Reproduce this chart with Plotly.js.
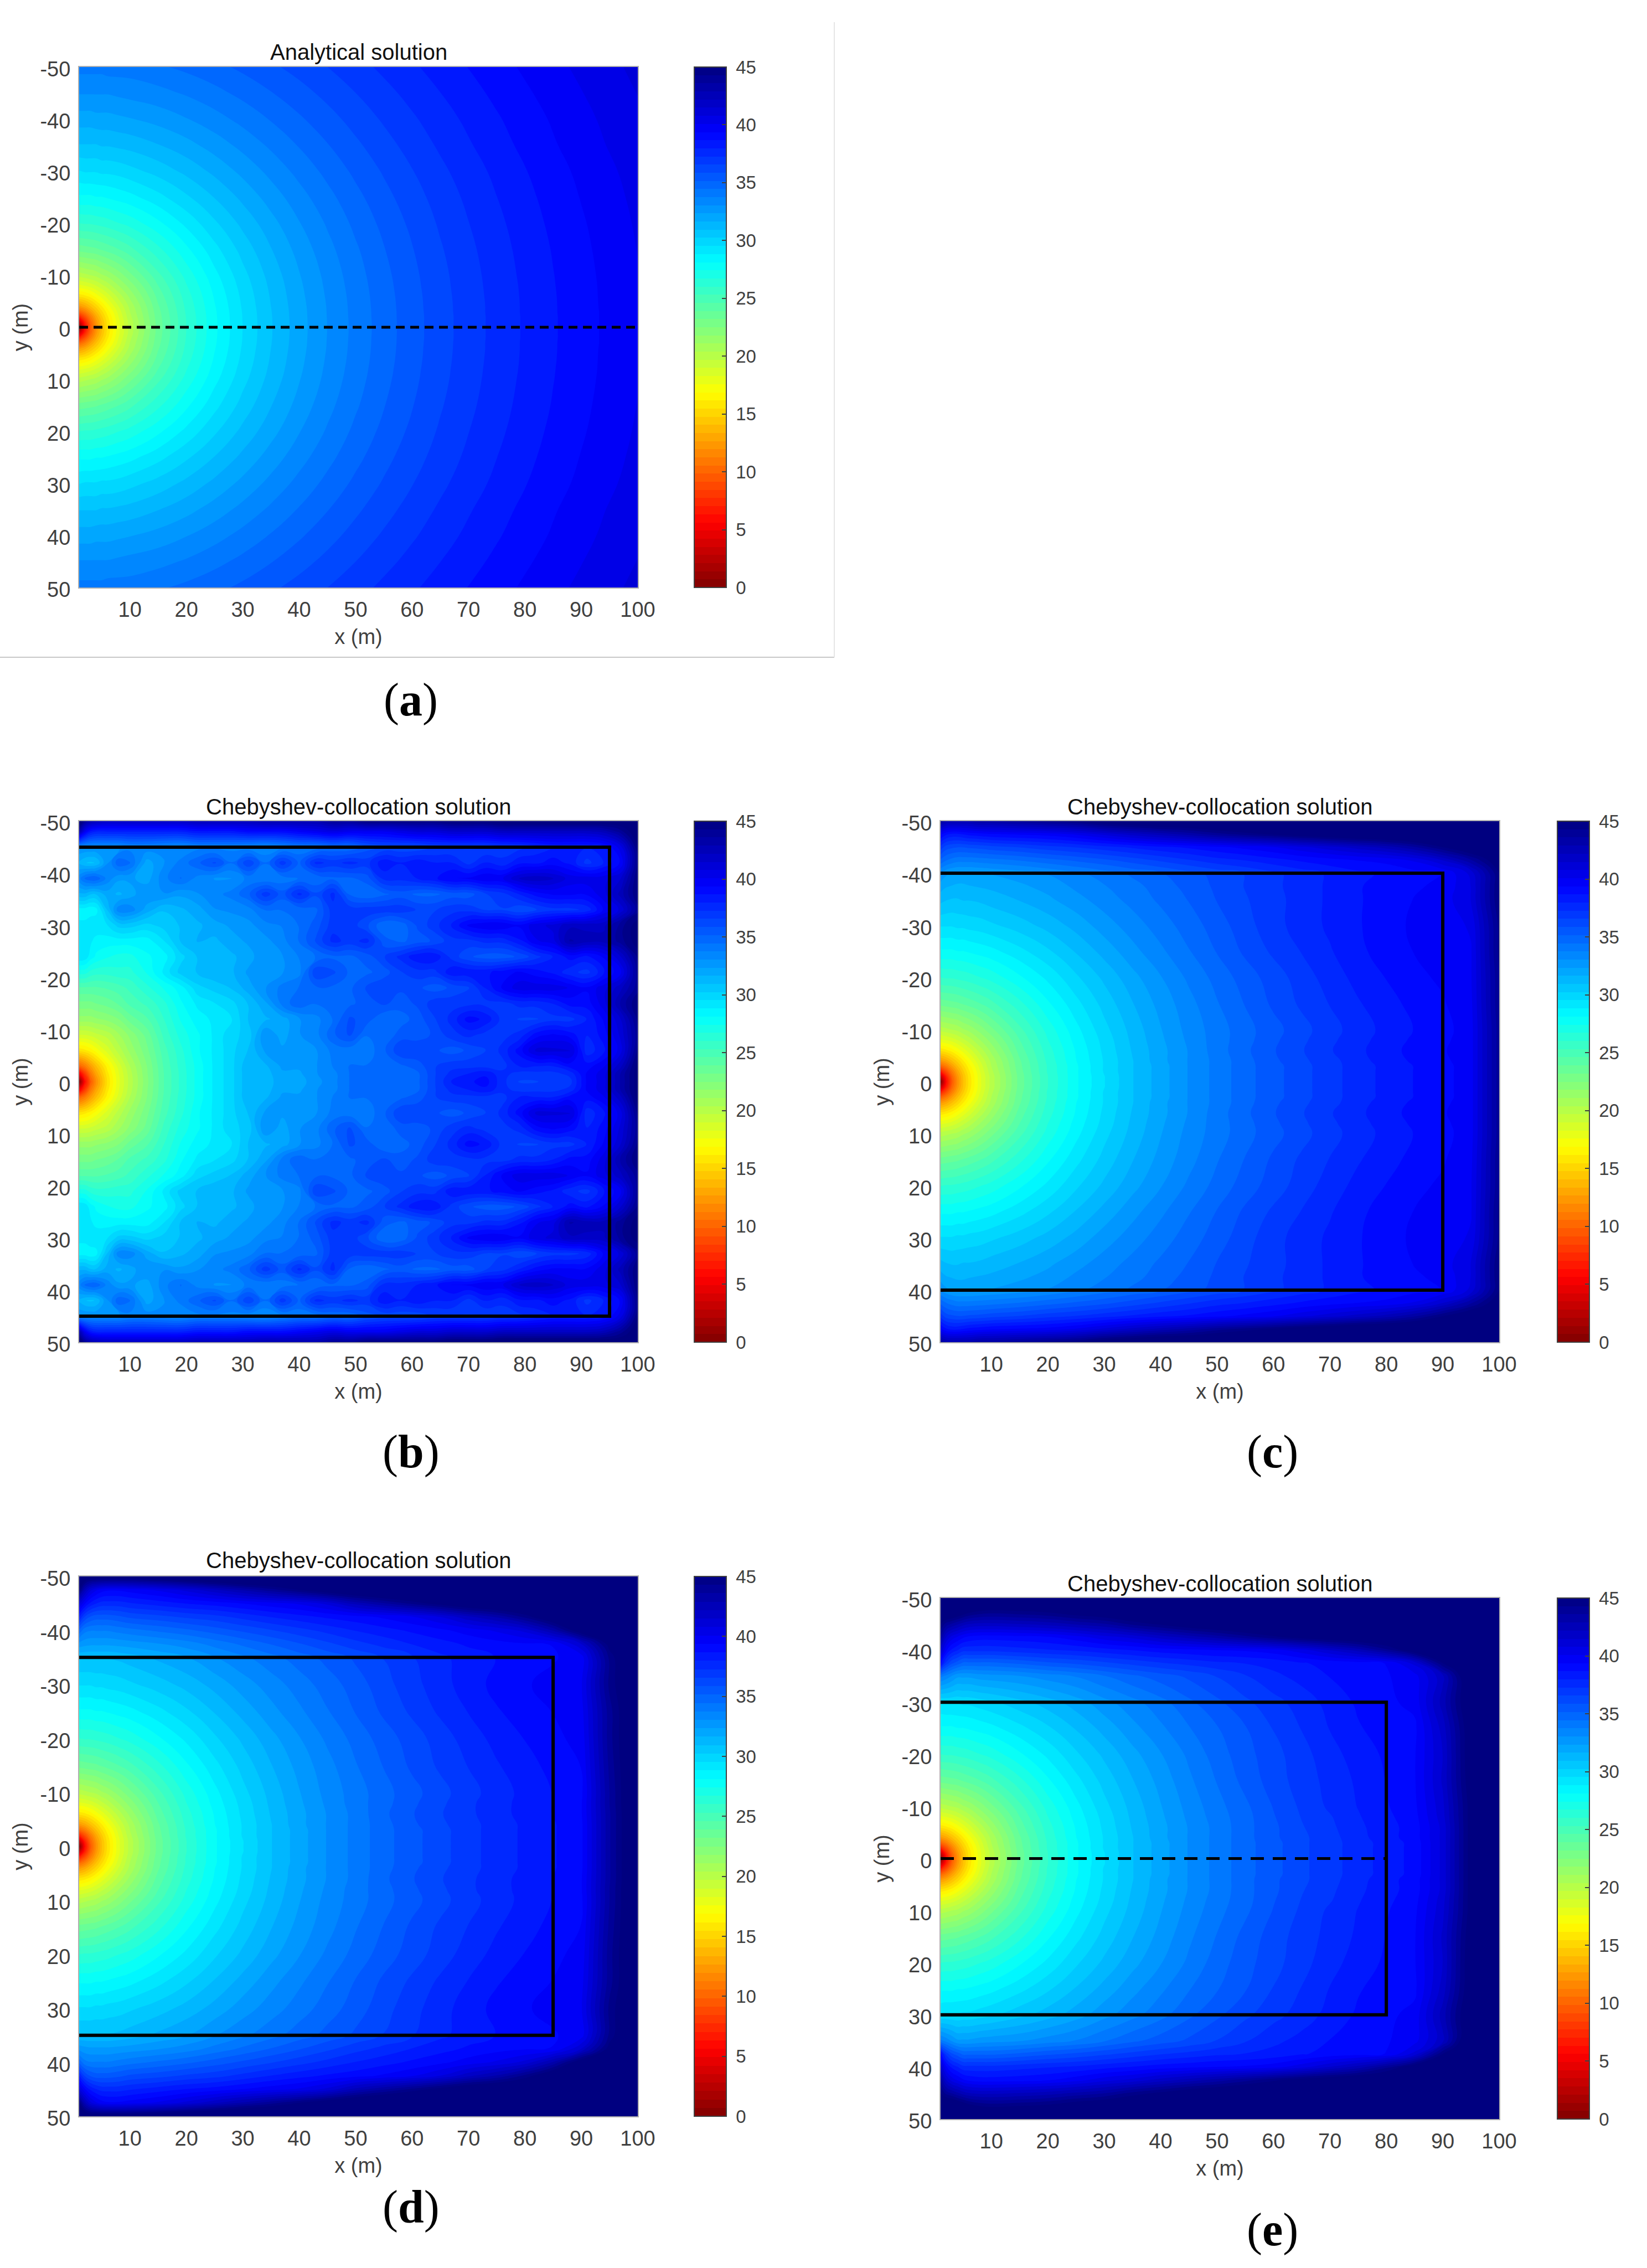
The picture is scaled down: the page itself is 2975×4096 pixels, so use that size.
<!DOCTYPE html>
<html><head><meta charset="utf-8">
<script src="https://cdn.plot.ly/plotly-3.0.1.min.js"></script>
<style>html,body{margin:0;padding:0;background:#fff}</style>
</head><body><div id="chart" style="width:2975px;height:4096px"></div>
<script>
// Grids (m). Rows are listed for |y| and mirrored: every field is symmetric about y=0.
const gridX = [1,2,3,4,5,6,8,10,15,20,25,30,35,40,45,50,55,60,65,70,75,80,85,90,95,100];
const gridYa = [0,1,2,3,4,6,8,10,15,20,25,30,35,40,45,50];
const gridY = [0,1,2,3,4,6,8,10,15,20,25,30,35,37.5,40,42.5,45,47.5,50];
const gridXb = [1,2,3,4,6,8,10,13,16,19,22,25,28,31,34,37,40,43,46,49,52,55,58,61,64,67,70,73,76,79,82,85,88,91,94,97,100];
const gridYb = [0,1.5,3,6,9,12,15,18,21,24,27,30,33,36,39,42,45,48,50];

const zA = [
[0,6,9.5,12,14,15.6,18.1,20,23.52,26.02,27.96,29.54,30.88,32.04,33.06,33.98,34.81,35.56,36.26,36.90,37.50,38.06,38.59,39.08,39.55,40],
[3,7,10,12.3,14.1,15.7,18.1,20,23.54,26.03,27.97,29.55,30.88,32.04,33.06,33.98,34.81,35.56,36.26,36.90,37.50,38.06,38.59,39.08,39.55,40],
[7,9,11.1,13,14.6,16,18.3,20.2,23.60,26.06,27.99,29.56,30.89,32.05,33.07,33.99,34.82,35.56,36.26,36.90,37.50,38.06,38.59,39.08,39.55,40],
[10,11.1,12.6,14,15.3,16.5,18.6,20.4,23.69,26.12,28.02,29.58,30.91,32.06,33.08,34.00,34.82,35.57,36.27,36.91,37.51,38.07,38.60,39.08,39.55,40],
[12.3,13,14,15,16.1,17.2,19,20.6,23.82,26.19,28.07,29.62,30.94,32.08,33.09,34.01,34.83,35.58,36.28,36.91,37.51,38.07,38.60,39.09,39.56,40.01],
[15.7,16,16.5,17.2,17.9,18.6,20,21.3,24.17,26.39,28.21,29.71,31.01,32.14,33.14,34.04,34.86,35.60,36.30,36.93,37.53,38.08,38.61,39.10,39.57,40.02],
[18.1,18.3,18.6,19,19.5,20,21.1,22.1,24.61,26.67,28.39,29.84,31.10,32.21,33.20,34.09,34.90,35.64,36.33,36.96,37.55,38.10,38.63,39.11,39.58,40.03],
[20,20.2,20.4,20.6,21,21.3,22.1,23,25.12,26.99,28.61,30.00,31.22,32.30,33.27,34.15,34.95,35.68,36.36,36.99,37.58,38.13,38.65,39.13,39.60,40.04],
[23.5,23.6,23.7,23.8,24,24.2,24.6,25.1,26.53,27.96,29.30,30.51,31.61,32.61,33.52,34.35,35.12,35.82,36.49,37.10,37.67,38.21,38.72,39.20,39.66,40.10],
[26,26.1,26.1,26.2,26.3,26.4,26.7,27,27.96,29.03,30.11,31.14,32.09,33.01,33.84,34.63,35.35,36.02,36.66,37.25,37.80,38.32,38.83,39.29,39.74,40.17],
[28,28,28,28.1,28.1,28.2,28.4,28.6,29.30,30.11,30.97,31.83,32.67,33.47,34.23,34.95,35.63,36.26,36.86,37.42,37.96,38.47,38.95,39.41,39.84,40.26],
[29.5,29.6,29.6,29.6,29.7,29.7,29.8,30,30.51,31.14,31.83,32.55,33.27,33.98,34.66,35.32,35.94,36.53,37.10,37.63,38.14,38.63,39.10,39.54,39.96,40.37],
[30.9,30.9,30.9,30.9,31,31,31.1,31.2,31.61,32.09,32.67,33.27,33.89,34.51,35.12,35.72,36.29,36.85,37.38,37.89,38.38,38.85,39.30,39.73,40.13,40.51],
[32,32,32,32.1,32.1,32.1,32.2,32.3,32.61,33.01,33.47,33.98,34.51,35.05,35.59,36.13,36.66,37.16,37.65,38.13,38.59,39.03,39.46,39.87,40.26,40.64],
[33.1,33.1,33.1,33.1,33.1,33.1,33.2,33.3,33.52,33.84,34.23,34.66,35.12,35.59,36.07,36.56,37.04,37.50,37.96,38.41,38.84,39.26,39.66,40.05,40.43,40.80],
[34,34,34,34,34,34.1,34.1,34.1,34.35,34.63,34.95,35.32,35.72,36.13,36.56,36.99,37.43,37.85,38.28,38.69,39.10,39.49,39.87,40.24,40.60,40.97]
];

const zB = [
[0,6,9.5,12,15.6,18.1,20,22.3,24.6,26.2,27.7,29,30,31.5,31.3,32,32,32.8,33.5,34.5,35,35,35,35,36.5,38,38.5,39,37.5,36.5,36.5,37,37,39.5,40.5,43,45.5],
[5,8,10.8,12.8,15.9,18.2,20.1,22.4,24.6,26.2,27.7,29,30,31.5,31.3,32.2,32.2,33,33.5,34.5,35,35,35,35,36.5,37.5,38,38.5,37.5,37,37,37,37.5,39.5,40.5,43,45.5],
[10,11.1,12.6,14,16.5,18.6,20.4,22.5,24.7,26.3,27.7,29,30,31.5,31.5,32.5,32.5,33,33.8,34.5,34.5,34.5,35,35.5,36.5,37,37,37,37,38,38,38,39,39,40,42,45.5],
[15.7,16,16.5,17.2,18.6,20,21.3,23,25,26.5,28,29,30,31,32.5,32.5,33,33,34,34,34,35,36.5,36.5,36,35.5,36,36.5,37.5,39,41,41,41,37.5,38.5,40.5,44.5],
[19,19,19.2,19.5,20,21,22,23.5,25.5,27,28,29,30,30.5,33,32,33,33.5,35,36,34.5,34.5,35.5,35.5,36,37,37.5,37,37,37.5,39,39.5,39,38,39,41,44],
[21.5,21.5,21.5,21.7,22,22.5,23.5,24.5,26,27.5,28.5,29,29.5,31,31.5,32,33,33.5,34.5,36,35.5,34.5,34.8,35.5,36.5,37.5,39,38.5,37,36.5,36.5,37,37,38,39.5,41.5,44.5],
[23,23,23,23.2,23.5,24,24.8,25.5,26.5,28,29,29.5,30,31,32.2,34,35,34.5,35,35,35.5,36,35.5,36,37,37,37,37,37,37.5,37.5,38,39,39,40.5,43,45],
[24.5,24.5,24.5,24.5,24.7,25,25.5,26.5,27.5,28.5,30,30.5,31,32,33,34,34.5,35,35,35,36,36.5,36,36,35.5,36,36.5,38,39.5,40.5,40.5,40.5,40,39.5,40.5,42,44],
[27,27,26.5,26.3,26.3,26.5,26.5,27.5,29,30.5,31,31.5,31.5,32.5,32.5,33,33.5,36.5,36,35,35,35.5,36.5,37,37,38.5,38.5,38.5,39,39.5,39,38.5,37.5,37,38.5,40,44],
[29.5,29.3,28.5,28,27.5,27.2,27.2,28,28.5,30,31,31.2,31.5,32,33,33,33.8,34.5,35,35,35.5,36.5,37.5,38.5,38.5,37,36,35.5,35.5,36,37,38,39,38.5,39.5,41.5,44.5],
[29.5,29.5,29,28.5,28.5,28.5,28.5,28.5,29.5,31,31.7,31.5,32,32.5,32.8,33.5,34.5,36,37.5,37,37.5,35.5,35,35.5,36,37,37,37.5,37.5,38.5,40,40.5,43,42.5,42.5,44,45.5],
[29,29,29.5,29.5,29.5,30.5,30.5,30,30.5,31,31.5,32,32.5,32.8,33.5,33.8,34.5,35.5,37,37,36,34.5,34.7,36,37,38,39.5,40,40,39.5,40.5,41,42,42,42,44,45.5],
[28.5,28.5,28.3,28.5,31,33.5,33.5,32,31,31.5,32,33,33.2,33.5,34.5,34.5,34.7,35,37,37,37,37,37,36.5,36.5,37,37,36.5,36.5,36,36.5,37,37,37.5,39.5,41,44],
[31.5,31.5,31,31,32,31.5,32,33,33,32.5,33,33.5,34,35,37,35.5,37.5,36,37.5,35,34.5,35,35.5,35,35,35.5,35.5,36.5,37,38,39,39.5,39.5,39.5,40.5,42.5,45],
[33.5,34.5,35,35,33.5,32.5,32.5,32,33.5,34.5,33.5,33,33,34,33.8,34,34.5,34.5,35,35,35.5,37.5,37.5,38,38.5,39.5,39.5,40,40,41.5,42,41.5,40.5,40.5,40.5,41.5,45],
[31.5,31,30.8,31,33,35,34.5,32,33,34,35,36,34.5,36.5,34.5,37,35,37.5,37,37.5,37,38.5,38,38.5,38,38,37,38,37.5,38.5,38.5,39,38.5,37,38,39.5,44.5],
[33,33,33,33,33,33,33.5,33.5,33.2,33,33.5,33.5,33.5,33.2,33,33.5,34,34,34.5,34.5,35.5,36,36,36,36.5,36.5,36.5,36.5,36.8,37,37.5,38,38,38,38.5,40.5,45],
[43,40,38.5,38,38,38,38,38,38,38,38.5,38.5,38.5,39,39,39,39.5,40,40.5,40,40,40,40.5,41,41,41.5,41.5,41.5,42,42,42,42,42,42,42.5,44,46],
[46,44,43,42.5,42,42,42,42,42,42,42.5,42.5,42.5,42.5,43,43,43,43,44,44,45,45,45,45,45,45.5,45.5,45.5,46,46,46,46,46,46,46,46,46]
];

const zC = [
[0,6,9.5,12,14,15.6,18.1,20,23.5,26,28,29.5,30.9,32,33.1,34,34.9,35.6,36.3,37,37.6,38.2,38.7,39.1,39.8,44],
[3,7,10,12.3,14.1,15.7,18.1,20,23.5,26,28,29.5,30.9,32,33.1,34,34.9,35.6,36.3,37,37.6,38.2,38.7,39.1,39.8,44],
[7,9,11.1,13,14.6,16,18.3,20.2,23.6,26.1,28,29.6,30.9,32,33.1,34,34.9,35.6,36.3,37,37.6,38.2,38.7,39.1,39.8,44],
[10,11.1,12.6,14,15.3,16.5,18.6,20.4,23.7,26.1,28,29.6,30.9,32,33.1,34,34.9,35.6,36.3,37,37.6,38.2,38.7,39.1,39.8,44],
[12.3,13,14,15,16.1,17.2,19,20.6,23.8,26.2,28.1,29.6,30.9,32.1,33.1,34,34.9,35.7,36.4,37,37.7,38.3,38.8,39.2,39.8,44],
[15.7,16,16.5,17.2,17.9,18.6,20,21.3,24.2,26.4,28.2,29.7,31,32.1,33.1,34.1,35,35.8,36.5,37.2,37.8,38.4,38.9,39.3,39.8,44],
[18.1,18.3,18.6,19,19.5,20,21.1,22.1,24.6,26.7,28.4,29.8,31.1,32.2,33.2,34.1,34.9,35.7,36.4,37.1,37.7,38.3,38.8,39.2,39.8,44],
[20,20.2,20.4,20.6,21,21.3,22.1,23,25.1,27,28.6,30,31.2,32.3,33.3,34.1,34.9,35.6,36.3,37,37.6,38.2,38.7,39.1,39.8,44],
[23.5,23.6,23.7,23.8,24,24.2,24.6,25.1,26.5,28,29.3,30.5,31.6,32.6,33.5,34.4,35.2,36,36.7,37.3,37.9,38.4,38.9,39.3,39.9,44.2],
[26,26.1,26.1,26.2,26.3,26.4,26.7,27,28,29,30.1,31.1,32.1,33,33.9,34.7,35.5,36.2,36.9,37.6,38.2,38.7,39.2,39.5,40,44.2],
[28,28,28,28.1,28.1,28.2,28.4,28.6,29.3,30.1,31,31.9,32.8,33.6,34.4,35.2,36,36.7,37.3,37.9,38.5,39,39.4,39.7,40,44.5],
[29.6,29.6,29.6,29.7,29.7,29.8,29.9,30.1,30.6,31.2,31.9,32.7,33.4,34.1,34.8,35.5,36.3,37,37.6,38.1,38.6,39.1,39.5,39.6,40.2,44.5],
[31.2,31,30.9,30.9,31,31,31.1,31.3,31.7,32.2,32.8,33.4,34,34.6,35.2,35.9,36.5,37,37.6,38.1,38.6,39,39.4,39.7,40.8,45],
[32,31.7,31.6,31.5,31.5,31.6,31.7,31.8,32.2,32.6,33.2,33.7,34.2,34.8,35.4,36,36.6,37.1,37.6,38.1,38.6,39,39.3,39.5,40.8,45],
[33,32.5,32.3,32.2,32.2,32.2,32.3,32.4,32.7,33.1,33.6,34.1,34.6,35.1,35.6,36.1,36.6,37.1,37.6,38.1,38.5,38.8,39.1,39.4,41,45],
[35,34.5,34.2,34,34,34,34.1,34.2,34.5,34.9,35.3,35.7,36.2,36.7,37.2,37.7,38,38.4,38.8,39.1,39.4,39.6,40.2,41.5,43.5,46],
[37,36.2,36,35.9,35.9,36,36.1,36.3,36.6,37,37.3,37.7,38.1,38.5,38.8,39.2,39.6,40,40.6,41.2,41.8,42.5,43.5,45,46.5,47.5],
[39.5,38.8,38.5,38.5,38.7,38.9,39.1,39.3,39.5,39.7,40.2,41,41.8,42.5,43.2,44,44.6,45.2,45.8,46.3,46.8,47,47.5,47.5,48,48],
[44,43,43,43,43,43,43.5,43.5,44,44.5,45,46,46.5,47,47,47.5,48,48,48,48,48,48,48,48,48,48]
];

const zD = [
[0,6,9.5,12,14,15.6,18.1,20,23.5,26,28,29.5,30.9,32,33.1,34,34.9,35.6,36.3,37,37.6,38.1,38.6,39.2,43.5,47],
[3,7,10,12.3,14.1,15.7,18.1,20,23.5,26,28,29.5,30.9,32,33.1,34,34.9,35.6,36.3,37,37.6,38.1,38.6,39.2,43.5,47],
[7,9,11.1,13,14.6,16,18.3,20.2,23.6,26.1,28,29.6,30.9,32,33.1,34,34.9,35.6,36.3,37,37.6,38.1,38.6,39.2,43.5,47],
[10,11.1,12.6,14,15.3,16.5,18.6,20.4,23.7,26.1,28,29.6,30.9,32,33.1,34,34.9,35.6,36.3,37,37.6,38.1,38.6,39.2,43.5,47],
[12.3,13,14,15,16.1,17.2,19,20.6,23.8,26.2,28.1,29.6,30.9,32.1,33.1,34,34.9,35.7,36.4,37,37.6,38.1,38.6,39.2,43.5,47],
[15.7,16,16.5,17.2,17.9,18.6,20,21.3,24.2,26.4,28.2,29.7,31,32.1,33.1,34,35,35.8,36.5,37.1,37.7,38.2,38.7,39.3,43.5,47],
[18.1,18.3,18.6,19,19.5,20,21.1,22.1,24.6,26.7,28.4,29.8,31.1,32.2,33.2,34.1,34.9,35.7,36.4,37.1,37.7,38.2,38.7,39.3,43.6,47],
[20,20.2,20.4,20.6,21,21.3,22.1,23,25.1,27,28.6,30,31.2,32.3,33.3,34.1,34.9,35.6,36.3,37,37.6,38.2,38.7,39.2,43.6,47],
[23.5,23.6,23.7,23.8,24,24.2,24.6,25.1,26.5,28,29.3,30.5,31.6,32.6,33.5,34.4,35.2,36,36.7,37.3,37.9,38.4,38.9,39.4,43.8,47],
[26,26.1,26.1,26.2,26.3,26.4,26.7,27,28,29,30.1,31.1,32.1,33,33.9,34.7,35.5,36.2,36.9,37.6,38.2,38.7,39.2,39.6,44,47],
[28,28,28,28.1,28.1,28.2,28.4,28.6,29.3,30.1,31,31.9,32.8,33.6,34.4,35.2,36,36.7,37.4,38,38.6,39,39.4,39.8,44,47],
[29.6,29.6,29.6,29.7,29.7,29.8,29.9,30.1,30.6,31.2,31.9,32.7,33.4,34.1,34.8,35.5,36.3,37,37.7,38.3,38.9,39.3,39.6,40,44.5,47],
[31,31,31,31,31,31,31.1,31.3,31.8,32.3,33,33.6,34.2,34.8,35.4,36,36.6,37.2,37.8,38.3,38.7,39,39.3,39.7,44.5,47.5],
[32.8,32.6,32.5,32.5,32.5,32.5,32.6,32.7,33,33.4,34,34.6,35.2,35.8,36.4,37,37.5,38,38.4,38.8,39.1,39.3,39.4,41.5,45.5,48],
[35,34,33.8,33.8,33.8,33.8,34,34.2,34.6,35,35.5,36,36.5,37,37.5,38,38.4,38.8,39.2,39.7,40.2,41,43,46,47,48],
[38,36.5,35.8,35.5,35.5,35.5,35.7,36,36.3,36.7,37,37.5,38,38.4,38.8,39.1,39.5,40,40.8,42,43,44.5,46.5,48,48,48],
[41,39.5,38.5,38,37.7,37.7,37.7,37.9,38.3,38.7,39,39.4,39.8,40.2,41,42.5,43.5,44.5,45.5,46.5,47,47.5,48,48,48,48],
[45,42.5,41,40.2,39.7,39.5,39.5,39.7,40.2,41,42,43,44,45,46,46.8,47.5,48,48,48,48,48,48,48,48,48],
[47,46.5,46,46,46,46,46,46,46.5,47,47.5,48,48,48,48,48,48,48,48,48,48,48,48,48,48,48]
];

const zE = [
[0,6,9.5,12,14,15.6,18.1,20,23.5,26,28,29.5,30.9,32,33.1,34,34.9,35.6,36.4,37,37.6,38.3,38.9,41,45.5,48],
[3,7,10,12.3,14.1,15.7,18.1,20,23.5,26,28,29.5,30.9,32,33.1,34,34.9,35.6,36.4,37,37.6,38.3,38.9,41,45.5,48],
[7,9,11.1,13,14.6,16,18.3,20.2,23.6,26.1,28,29.6,30.9,32,33.1,34,34.9,35.6,36.4,37,37.6,38.3,38.9,41,45.5,48],
[10,11.1,12.6,14,15.3,16.5,18.6,20.4,23.7,26.1,28,29.6,30.9,32,33.1,34,34.9,35.6,36.4,37,37.6,38.3,38.9,41,45.5,48],
[12.3,13,14,15,16.1,17.2,19,20.6,23.8,26.2,28.1,29.6,30.9,32.1,33.1,34,34.9,35.7,36.4,37,37.7,38.4,39,41,45.5,48],
[15.7,16,16.5,17.2,17.9,18.6,20,21.3,24.2,26.4,28.2,29.7,31,32.1,33.1,34,34.9,35.7,36.5,37.1,37.8,38.4,39,41,45.5,48],
[18.1,18.3,18.6,19,19.5,20,21.1,22.1,24.6,26.7,28.4,29.8,31.1,32.2,33.2,34.1,34.9,35.8,36.6,37.2,37.9,38.5,39.1,41.2,45.5,48],
[20,20.2,20.4,20.6,21,21.3,22.1,23,25.1,27,28.6,30,31.2,32.3,33.3,34.2,35,35.9,36.7,37.4,38,38.6,39.2,41.3,45.5,48],
[23.5,23.6,23.7,23.8,24,24.2,24.6,25.1,26.5,28,29.3,30.5,31.6,32.6,33.6,34.5,35.4,36.2,36.9,37.5,38.1,38.7,39.3,41.6,45.8,48],
[26,26.1,26.1,26.2,26.3,26.4,26.7,27,28,29,30.1,31.1,32.1,33,33.9,34.8,35.6,36.3,37,37.7,38.3,38.8,39.3,41.5,46,48],
[28,28,28,28.1,28.1,28.2,28.4,28.6,29.3,30.1,31,31.9,32.8,33.6,34.4,35.1,35.8,36.6,37.3,38,38.6,39,39.2,41.8,46,48],
[29.5,29.6,29.6,29.6,29.7,29.7,29.9,30.1,30.7,31.3,32,32.8,33.5,34.2,35,35.7,36.4,37,37.6,38.2,38.8,39.2,39.6,42.5,46.5,48],
[34,33.5,33,32.5,32.5,32.5,32.7,32.8,33,33.4,33.8,34.4,35,35.5,36,36.6,37.2,37.8,38.2,38.7,39,39.3,39.8,42,47,48],
[39,37,36,35.5,35,35,35,35,35.3,35.7,36,36.4,36.8,37.2,37.5,37.8,38,38.2,38.6,38.9,39.1,39.4,41,45,47,48],
[41.5,39.5,38.5,38,37.5,37.5,37.5,37.5,37.7,37.9,38.1,38.4,38.7,39,39.2,39.4,39.5,39.8,40.5,41.5,42.5,44,46,48,48,48],
[43.5,41.5,40.5,40,39.5,39.2,39,39,39.1,39.3,39.8,40.5,41,41.8,42.5,43.2,44,44.8,45.5,46,46.5,47,48,48,48,48],
[45,44,43.5,43,42.5,42.2,42,42,42.2,42.5,43,43.5,44.5,45.2,46,46.5,47,47.3,47.5,47.5,48,48,48,48,48,48],
[48,47,47,46.5,46,45.5,45,44.8,45,45.3,46,46.5,47,47.5,48,48,48,48,48,48,48,48,48,48,48,48],
[48,48,48,48,48,48,48,48,48,48,48,48,48,48,48,48,48,48,48,48,48,48,48,48,48,48]
];

// Black lines of the inner domain and dashed transects (m)
const rectBx = [1,95,95,1],  rectBy = [-45,-45,45,45];
const rectCx = [1,90,90,1],  rectCy = [-40,-40,40,40];
const rectDx = [1,85,85,1],  rectDy = [-35,-35,35,35];
const rectEx = [1,80,80,1],  rectEy = [-30,-30,30,30];
const dashAx = [1,100], dashAy = [0,0];
const dashEx = [1,80],  dashEy = [0,0];

const xTickVals = [10,20,30,40,50,60,70,80,90,100];
const yTickVals = [-50,-40,-30,-20,-10,0,10,20,30,40,50];
const yTickText = ['-50','-40','-30','-20','-10','0','10','20','30','40','50'];
const barTickVals = [0,5,10,15,20,25,30,35,40,45];
const barTickText = ['0','5','10','15','20','25','30','35','40','45'];
const titleA = 'Analytical solution', titleCheb = 'Chebyshev-collocation solution';
const labels = ['a','b','c','d','e'];

const W = 2975, H = 4096;
const jetRev = [[0,'rgb(128,0,0)'],[0.125,'rgb(255,0,0)'],[0.375,'rgb(255,255,0)'],[0.625,'rgb(0,255,255)'],[0.875,'rgb(0,0,255)'],[1,'rgb(0,0,128)']];
const ink = '#404040';
const sans = 'Liberation Sans, Arial, sans-serif';

const panels = [
 {k:'a', z:zA, gx:gridX, gy:gridYa,L:143, R:1152, T:121, B:1061, cb:1254, t:titleA,   tY:94,   lab:[742,1264]},
 {k:'b', z:zB, gx:gridXb,gy:gridYb,L:143, R:1152, T:1483,B:2424, cb:1254, t:titleCheb,tY:1457, lab:[742,2622]},
 {k:'c', z:zC, gx:gridX, gy:gridY, L:1699,R:2708, T:1483,B:2424, cb:2813, t:titleCheb,tY:1457, lab:[2298,2622]},
 {k:'d', z:zD, gx:gridX, gy:gridY, L:143, R:1152, T:2847,B:3822, cb:1254, t:titleCheb,tY:2818, lab:[742,3986]},
 {k:'e', z:zE, gx:gridX, gy:gridY, L:1699,R:2708, T:2886,B:3827, cb:2813, t:titleCheb,tY:2860, lab:[2298,4027]}
];
const lines = {
 a:[[dashAx,dashAy,'16px,10px']],
 b:[[rectBx,rectBy,'solid']],
 c:[[rectCx,rectCy,'solid']],
 d:[[rectDx,rectDy,'solid']],
 e:[[rectEx,rectEy,'solid'],[dashEx,dashEy,'24px,16px']]
};

const mirrorRows = r => r.slice(1).reverse().concat(r);
const mirrorY = y => y.slice(1).reverse().map(v=>-v).concat(y);

const data = [], annotations = [];
const layout = {width:W,height:H,margin:{l:0,r:0,t:0,b:0},paper_bgcolor:'#fff',plot_bgcolor:'#fff',showlegend:false,
  font:{family:sans,color:ink,size:38},annotations,
  shapes:[
   {type:'line',xref:'paper',yref:'paper',x0:0,x1:1507/W,y0:1-1187/H,y1:1-1187/H,line:{color:'#c8c8c8',width:2}},
   {type:'line',xref:'paper',yref:'paper',x0:1507/W,x1:1507/W,y0:1-40/H,y1:1-1187/H,line:{color:'#e6e6e6',width:2}}
  ]};

panels.forEach((p,i)=>{
  const s = i===0?'':String(i+1);
  data.push({type:'contour',x:p.gx,y:mirrorY(p.gy),z:mirrorRows(p.z),xaxis:'x'+s,yaxis:'y'+s,
    colorscale:jetRev,zauto:false,zmin:0,zmax:45,autocontour:false,
    contours:{start:0,end:45,size:45/64,coloring:'fill',showlines:false},
    line:{width:0,smoothing:1.3},hoverinfo:'skip',
    colorbar:{x:p.cb/W,xanchor:'left',xpad:0,y:1-p.T/H,yanchor:'top',ypad:0,len:(p.B-p.T)/H,lenmode:'fraction',
      thickness:58,thicknessmode:'pixels',tickmode:'array',tickvals:barTickVals,ticktext:barTickText.map(t=>'\u00a0'+t),ticks:'inside',ticklen:9,tickwidth:2,tickcolor:ink,
      outlinecolor:ink,outlinewidth:2,tickfont:{family:sans,size:33,color:ink}}});
  lines[p.k].forEach(l=>data.push({type:'scatter',mode:'lines',x:l[0],y:l[1],xaxis:'x'+s,yaxis:'y'+s,
    line:{color:'#000',width:l[2]==='solid'?6:5,dash:l[2]},hoverinfo:'skip'}));
  layout['xaxis'+s] = {domain:[p.L/W,p.R/W],range:[1,100],anchor:'y'+s,tickmode:'array',tickvals:xTickVals,
    ticks:'outside',ticklen:5,tickcolor:'rgba(0,0,0,0)',showgrid:false,zeroline:false,showline:true,mirror:true,linecolor:'#b0b0b0',linewidth:2,
    tickfont:{family:sans,size:38,color:ink},title:{text:'x (m)',standoff:16,font:{family:sans,size:38,color:ink}},automargin:false};
  layout['yaxis'+s] = {domain:[1-p.B/H,1-p.T/H],range:[50,-50],anchor:'x'+s,tickmode:'array',tickvals:yTickVals,ticktext:yTickText,
    ticklabelshift:-4,ticks:'outside',ticklen:6,tickcolor:'rgba(0,0,0,0)',showgrid:false,zeroline:false,showline:true,mirror:true,linecolor:'#b0b0b0',linewidth:2,
    tickfont:{family:sans,size:38,color:ink},title:{text:'y (m)',standoff:10,font:{family:sans,size:38,color:ink}},automargin:false};
  annotations.push({xref:'paper',yref:'paper',x:(p.L+p.R)/2/W,y:1-p.tY/H,xanchor:'center',yanchor:'middle',showarrow:false,
    text:p.t,font:{family:sans,size:40,color:'#111'}});
  annotations.push({xref:'paper',yref:'paper',x:p.lab[0]/W,y:1-p.lab[1]/H,xanchor:'center',yanchor:'middle',showarrow:false,
    text:'(<b>'+labels[i]+'</b>)',font:{family:'Liberation Serif, serif',size:84,color:'#000'}});
});
Plotly.newPlot('chart',data,layout,{displayModeBar:false,staticPlot:true});
</script></body></html>
